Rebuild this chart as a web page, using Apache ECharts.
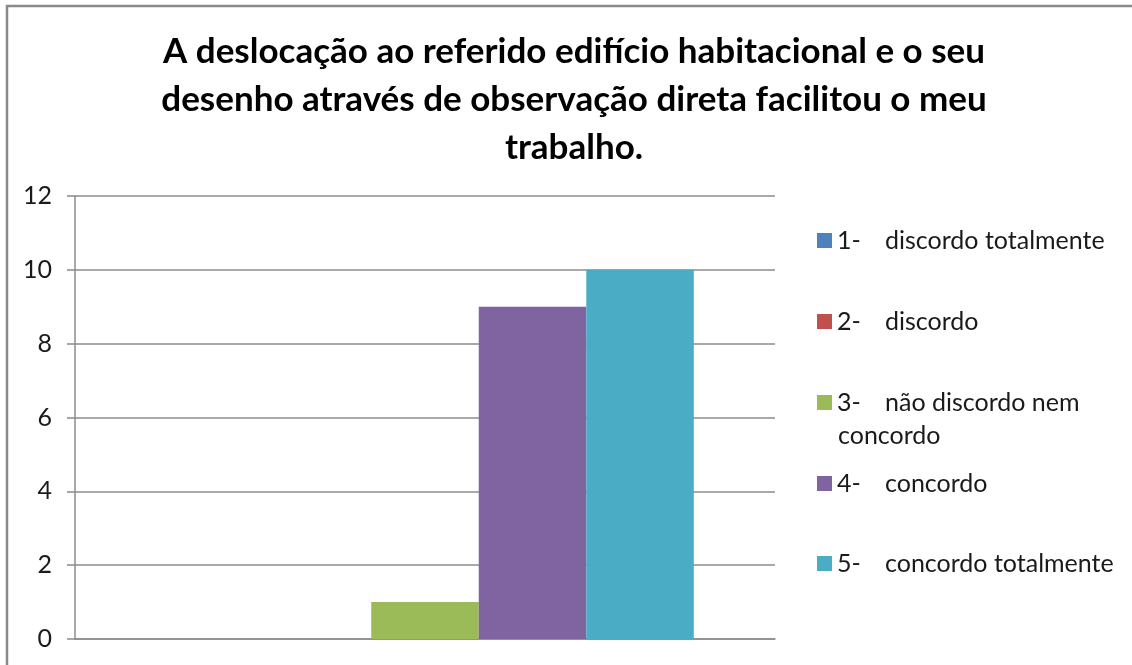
<!DOCTYPE html>
<html>
<head>
<meta charset="utf-8">
<script src="https://cdn.jsdelivr.net/npm/echarts@6/dist/echarts.min.js"></script>
<style>
html,body{margin:0;padding:0;background:#fff;}
#c{width:1132px;height:665px;}
</style>
</head>
<body>
<div id="c"></div>
<script>
var titleText = 'A deslocação ao referido edifício habitacional e o seu\ndesenho através de observação direta facilitou o meu\ntrabalho.';
var categories = [''];
var seriesNames = ['1-    discordo totalmente', '2-    discordo', '3-    não discordo nem concordo', '4-    concordo', '5-    concordo totalmente'];
var legendNums = ['1-', '2-', '3-', '4-', '5-'];
var legendTexts = ['discordo totalmente', 'discordo', 'não discordo nem', 'concordo', 'concordo totalmente'];
var legendWrap = 'concordo';
var values = [0, 0, 1, 9, 10];
var colors = ['#4F81BD', '#C0504D', '#9BBB59', '#8064A2', '#4BACC6'];
var yTicks = {min: 0, max: 12, interval: 2};

var FONT = 'Lato, "Open Sans", sans-serif';
var LFS = 25;
var legendCenters = [243, 324, 405, 486, 566];

var chart = echarts.init(document.getElementById('c'), null, {renderer: 'canvas'});

var series = seriesNames.map(function (n, i) {
  return {
    name: n,
    type: 'bar',
    data: [values[i]],
    barGap: '0%',
    barCategoryGap: '23.2%',
    itemStyle: {color: colors[i]},
    animation: false
  };
});

var legends = seriesNames.map(function (n, i) {
  return {
    orient: 'vertical',
    left: 817,
    top: legendCenters[i] - 15,
    padding: 0,
    itemWidth: 15,
    itemHeight: 15,
    icon: 'rect',
    selectedMode: false,
    data: [n],
    formatter: function () {
      return '{a|' + legendNums[i] + '}{b|' + legendTexts[i] + '}';
    },
    textStyle: {
      fontFamily: FONT,
      fontSize: LFS,
      color: '#1a1a1a',
      rich: {
        a: {width: 48, fontFamily: FONT, fontSize: LFS, color: '#1a1a1a', lineHeight: 30},
        b: {fontFamily: FONT, fontSize: LFS, color: '#1a1a1a', lineHeight: 30}
      }
    }
  };
});

chart.setOption({
  backgroundColor: '#fff',
  animation: false,
  legend: legends,
  grid: {left: 75, right: 357, top: 196, bottom: 26, containLabel: false},
  xAxis: {
    type: 'category',
    data: categories,
    axisLine: {show: true, lineStyle: {color: '#8c8c8c', width: 1.5}},
    axisTick: {show: false},
    axisLabel: {show: false},
    splitLine: {show: false}
  },
  yAxis: {
    type: 'value',
    min: yTicks.min,
    max: yTicks.max,
    interval: yTicks.interval,
    axisLine: {show: true, lineStyle: {color: '#8c8c8c', width: 1.5}},
    axisTick: {show: true, length: 8, lineStyle: {color: '#8c8c8c', width: 1.5}},
    axisLabel: {fontFamily: FONT, fontSize: 25, color: '#1a1a1a', margin: 23},
    splitLine: {show: true, lineStyle: {color: '#8c8c8c', width: 1.5}}
  },
  graphic: [
    {
      type: 'polyline',
      shape: {points: [[7, 665], [7, 6], [1132, 6]]},
      style: {stroke: '#8a8a8a', lineWidth: 2.5, fill: null},
      silent: true
    },
    {
      type: 'text',
      x: 574,
      y: 28,
      style: {
        text: titleText,
        font: 'bold 35px ' + FONT,
        fill: '#000',
        lineHeight: 48,
        align: 'center',
        verticalAlign: 'top'
      },
      silent: true
    },
    {
      type: 'text',
      left: 838,
      top: 436 - 15,
      style: {text: legendWrap, font: LFS + 'px ' + FONT, fill: '#1a1a1a', lineHeight: 30, textVerticalAlign: 'top'},
      silent: true
    }
  ],
  series: series
});
</script>
</body>
</html>
